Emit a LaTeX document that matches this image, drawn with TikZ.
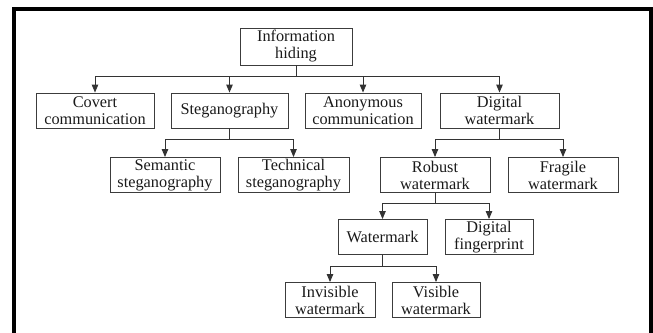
\documentclass[tikz,border=0pt]{standalone}
\usepackage{fontspec}
\setmainfont{Liberation Serif}
\usetikzlibrary{arrows.meta}
\definecolor{boxgray}{HTML}{3C3C3C}
\definecolor{linegray}{HTML}{333333}
\definecolor{txt}{HTML}{1A1A1A}
\begin{document}
\begin{tikzpicture}[x=1pt,y=-1pt,
  box/.style={draw=boxgray, line width=0.9pt, inner sep=0pt, align=center,
    minimum height=35pt, font=\fontsize{16.3}{17}\selectfont, text=txt},
  conn/.style={draw=linegray, line width=0.9pt},
  arr/.style={conn, -{Triangle[length=8pt,width=6.5pt]}},
  frame/.style={draw=black, line width=3.8pt, line join=miter}]
\useasboundingbox (0,0) rectangle (653,332);
\clip (0,0) rectangle (653,332);
% outer frame
\draw[frame] (14,345) -- (14,8.75) -- (651,8.75) -- (651,345);
% nodes
\node[box, minimum width=112pt, minimum height=37pt] (info) at (296,46.5) {Information\\hiding};
\node[box, minimum width=118pt] (covert) at (95,110.5) {Covert\\communication};
\node[box, minimum width=117pt] (steg) at (229.5,110.5) {Steganography};
\node[box, minimum width=116pt] (anon) at (363,110.5) {Anonymous\\communication};
\node[box, minimum width=119pt] (dw) at (499.5,110.5) {Digital\\watermark};
\node[box, minimum width=110pt] (sem) at (165,175) {Semantic\\steganography};
\node[box, minimum width=111pt] (tech) at (293.5,175) {Technical\\steganography};
\node[box, minimum width=110pt] (rob) at (435,175) {Robust\\watermark};
\node[box, minimum width=110pt] (frag) at (563,175) {Fragile\\watermark};
\node[box, minimum width=89pt] (wm) at (382.5,237) {Watermark};
\node[box, minimum width=88pt] (fp) at (489,237) {Digital\\fingerprint};
\node[box, minimum width=90pt] (inv) at (330,300) {Invisible\\watermark};
\node[box, minimum width=88pt] (vis) at (436,300) {Visible\\watermark};
% junction levels
\coordinate (j1) at (0,76);
\coordinate (j2) at (0,139);
\coordinate (j3) at (0,203);
\coordinate (j4) at (0,266);
% connectors
\foreach \c in {covert,steg,anon,dw}
  \draw[arr] (info.south) -- (info.south |- j1) -| (\c.north);
\foreach \c in {sem,tech}
  \draw[arr] (steg.south) -- (steg.south |- j2) -| (\c.north);
\foreach \c in {rob,frag}
  \draw[arr] (dw.south) -- (dw.south |- j2) -| (\c.north);
\foreach \c in {wm,fp}
  \draw[arr] (rob.south) -- (rob.south |- j3) -| (\c.north);
\foreach \c in {inv,vis}
  \draw[arr] (wm.south) -- (wm.south |- j4) -| (\c.north);
\end{tikzpicture}
\end{document}
